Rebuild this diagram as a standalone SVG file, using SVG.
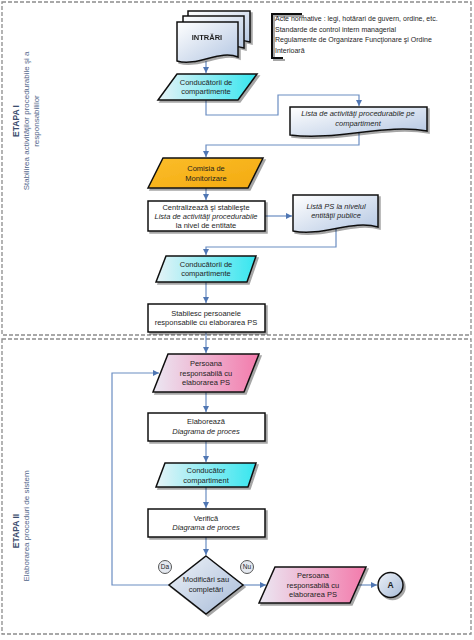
<svg xmlns="http://www.w3.org/2000/svg" width="474" height="640" viewBox="0 0 474 640">
<style>
text{font-family:"Liberation Sans",Arial,sans-serif;fill:#1e1e1e}
.t{font-size:7.5px;text-anchor:middle}
.ti{font-size:7.5px;text-anchor:middle;font-style:italic}
.a{font-size:7px}
.node{stroke:#111;stroke-width:1.5}
.con{fill:none;stroke:#6a8dc2;stroke-width:1.2}
.arr{marker-end:url(#ah)}
.panel{fill:#fff;stroke:#8c8c8c;stroke-width:1.3;stroke-dasharray:4 2}
.lab{font-size:8px;text-anchor:middle;fill:#52668a}
.labb{font-size:8.5px;text-anchor:middle;font-weight:bold;fill:#3c4d6e}
</style>
<defs>
<marker id="ah" markerUnits="userSpaceOnUse" markerWidth="7" markerHeight="7" refX="6" refY="3" orient="auto">
<path d="M0,0 L6,3 L0,6 Z" fill="#4f76b3"/>
</marker>
<filter id="sh" x="-20%" y="-20%" width="150%" height="150%">
<feDropShadow dx="2" dy="2" stdDeviation="0.7" flood-color="#000" flood-opacity="0.35"/>
</filter>
<linearGradient id="cyan" x1="0" y1="0" x2="1" y2="0">
<stop offset="0" stop-color="#e6f3f7"/><stop offset="1" stop-color="#36e6ef"/>
</linearGradient>
<linearGradient id="pink" x1="0" y1="0" x2="1" y2="0">
<stop offset="0" stop-color="#ebe8f3"/><stop offset="1" stop-color="#f37aab"/>
</linearGradient>
<linearGradient id="orange" x1="0" y1="0" x2="1" y2="1">
<stop offset="0" stop-color="#fbbd2a"/><stop offset="1" stop-color="#f3aa10"/>
</linearGradient>
<linearGradient id="doc" x1="0" y1="0" x2="1" y2="1">
<stop offset="0" stop-color="#ffffff"/><stop offset="1" stop-color="#b3c6e2"/>
</linearGradient>
<linearGradient id="dia" x1="0" y1="0" x2="1" y2="1">
<stop offset="0" stop-color="#eef2f8"/><stop offset="1" stop-color="#a7bbd8"/>
</linearGradient>
</defs>

<rect width="474" height="640" fill="#fff"/>
<g id="panels">
<rect class="panel" x="2" y="2" width="469" height="333"/>
<rect class="panel" x="2" y="339" width="469" height="295"/>
</g>

<g id="labels">
<text class="labb" transform="translate(19,121) rotate(-90)">ETAPA I</text>
<text class="lab" transform="translate(29,121) rotate(-90)">Stabilirea activităţilor procedurabile şi a</text>
<text class="lab" transform="translate(39,121) rotate(-90)">responsabililor</text>
<text class="labb" transform="translate(19,531) rotate(-90)">ETAPA II</text>
<text class="lab" transform="translate(29,526) rotate(-90)">Elaborarea proceduri de sistem</text>
</g>

<g id="connectors">
<path class="con arr" d="M206,61 V73"/>
<path class="con arr" d="M206,100 V115 H278 V95 H359 V106"/>
<path class="con arr" d="M359,132 V145 H206 V157"/>
<path class="con arr" d="M206,188 V200"/>
<path class="con arr" d="M265,216 H292"/>
<path class="con arr" d="M336,228 V247 H206 V255"/>
<path class="con arr" d="M206,282 V303"/>
<path class="con arr" d="M206,332 V353"/>
<path class="con arr" d="M206,392 V412"/>
<path class="con arr" d="M206,441 V462"/>
<path class="con arr" d="M206,487 V508"/>
<path class="con arr" d="M206,537 V555"/>
<path class="con arr" d="M169,585 H112 V373 H159"/>
<path class="con arr" d="M243,585 H266"/>
<path class="con arr" d="M358,585 H377"/>
</g>

<g id="intrari" filter="url(#sh)">
<path class="node" fill="url(#doc)" d="M188,11 H250 V42 C231,36 210,50 188,45 Z"/>
<path class="node" fill="url(#doc)" d="M183,16 H244 V48 C226,42 204,56 183,51 Z"/>
<path class="node" fill="url(#doc)" d="M177,22 H238 V57 C220,49 198,67 177,61 Z"/>
<text x="207" y="40" class="t" style="font-weight:bold">INTRĂRI</text>
</g>

<g id="acte">
<path d="M302,14 H272 V58 H283" fill="none" stroke="#111" stroke-width="2" filter="url(#sh)"/>
<text class="a" x="275" y="21">Acte normative : legi, hotărari de guvern, ordine, etc.</text>
<text class="a" x="275" y="31.5">Standarde de control intern managerial</text>
<text class="a" x="275" y="42">Regulamente de Organizare Funcţionare şi Ordine</text>
<text class="a" x="275" y="52.5">Interioară</text>
</g>

<g id="cond1">
<polygon class="node" fill="url(#cyan)" filter="url(#sh)" points="177,74 257,74 238,100 158,100"/>
<text class="t" x="206" y="84.5">Conducătorii de</text>
<text class="t" x="206" y="93.5">compartimente</text>
</g>

<g id="lista">
<path class="node" fill="url(#doc)" filter="url(#sh)" d="M290,107 H427 V131 C386,123 338,141 290,135 Z"/>
<text class="ti" x="358" y="116">Lista de activităţi procedurabile pe</text>
<text class="ti" x="358" y="125.5">compartiment</text>
</g>

<g id="comisia">
<polygon class="node" fill="url(#orange)" filter="url(#sh)" points="163,158 263,158 248,188 148,188"/>
<text class="t" x="206" y="170.5">Comisia de</text>
<text class="t" x="206" y="180.5">Monitorizare</text>
</g>

<g id="centralizeaza">
<rect class="node" fill="#fff" filter="url(#sh)" x="148" y="201" width="117" height="30"/>
<text class="t" x="206" y="209.5">Centralizează şi stabileşte</text>
<text class="ti" x="206" y="218.5">Lista de activităţi procedurabile</text>
<text class="t" x="206" y="227.5">la nivel de entitate</text>
</g>

<g id="listaps">
<path class="node" fill="url(#doc)" filter="url(#sh)" d="M293,195 H378 V227 C352.5,219 322.75,237 293,231 Z"/>
<text class="ti" x="336" y="209">Listă PS la nivelul</text>
<text class="ti" x="336" y="218">entităţii publice</text>
</g>

<g id="cond2">
<polygon class="node" fill="url(#cyan)" filter="url(#sh)" points="166,256 256,256 247,282 156,282"/>
<text class="t" x="206" y="267">Conducătorii de</text>
<text class="t" x="206" y="276">compartimente</text>
</g>

<g id="stabilesc">
<rect class="node" fill="#fff" filter="url(#sh)" x="148" y="304" width="117" height="28"/>
<text class="t" x="206" y="315.5">Stabilesc persoanele</text>
<text class="t" x="206" y="325">responsabile cu elaborarea PS</text>
</g>

<g id="persoana1">
<polygon class="node" fill="url(#pink)" filter="url(#sh)" points="168,354 259,354 244,392 153,392"/>
<text class="t" x="206" y="366">Persoana</text>
<text class="t" x="206" y="375.5">responsabilă cu</text>
<text class="t" x="206" y="384.5">elaborarea PS</text>
</g>

<g id="elaboreaza">
<rect class="node" fill="#fff" filter="url(#sh)" x="148" y="413" width="117" height="28"/>
<text class="t" x="206" y="424">Elaborează</text>
<text class="ti" x="206" y="433.5">Diagrama de proces</text>
</g>

<g id="cond3">
<polygon class="node" fill="url(#cyan)" filter="url(#sh)" points="165,463 256,463 248,487 156,487"/>
<text class="t" x="206" y="472.5">Conducător</text>
<text class="t" x="206" y="482.5">compartiment</text>
</g>

<g id="verifica">
<rect class="node" fill="#fff" filter="url(#sh)" x="148" y="509" width="117" height="28"/>
<text class="t" x="206" y="521">Verifică</text>
<text class="ti" x="206" y="530">Diagrama de proces</text>
</g>

<g id="decizie">
<polygon class="node" fill="url(#dia)" filter="url(#sh)" points="206,556 243,585 206,614 169,585"/>
<text class="t" x="206" y="581.5">Modificări sau</text>
<text class="t" x="206" y="592">completări</text>
</g>

<g id="da">
<circle cx="165" cy="567" r="6.5" fill="#e4e8ef" stroke="#555" stroke-width="1"/>
<text x="165" y="569.3" style="font-size:6.5px;text-anchor:middle">Da</text>
</g>
<g id="nu">
<circle cx="247" cy="567" r="6.5" fill="#e4e8ef" stroke="#555" stroke-width="1"/>
<text x="247" y="569.3" style="font-size:6.5px;text-anchor:middle">Nu</text>
</g>

<g id="persoana2">
<polygon class="node" fill="url(#pink)" filter="url(#sh)" points="275,567 366,567 350,603 259,603"/>
<text class="t" x="313" y="578">Persoana</text>
<text class="t" x="313" y="587.5">responsabilă cu</text>
<text class="t" x="313" y="597">elaborarea PS</text>
</g>

<g id="conectorA">
<circle class="node" fill="url(#dia)" filter="url(#sh)" cx="390.5" cy="585" r="12.5"/>
<text x="390.5" y="588" style="font-size:8.5px;font-weight:bold;text-anchor:middle">A</text>
</g>
</svg>
